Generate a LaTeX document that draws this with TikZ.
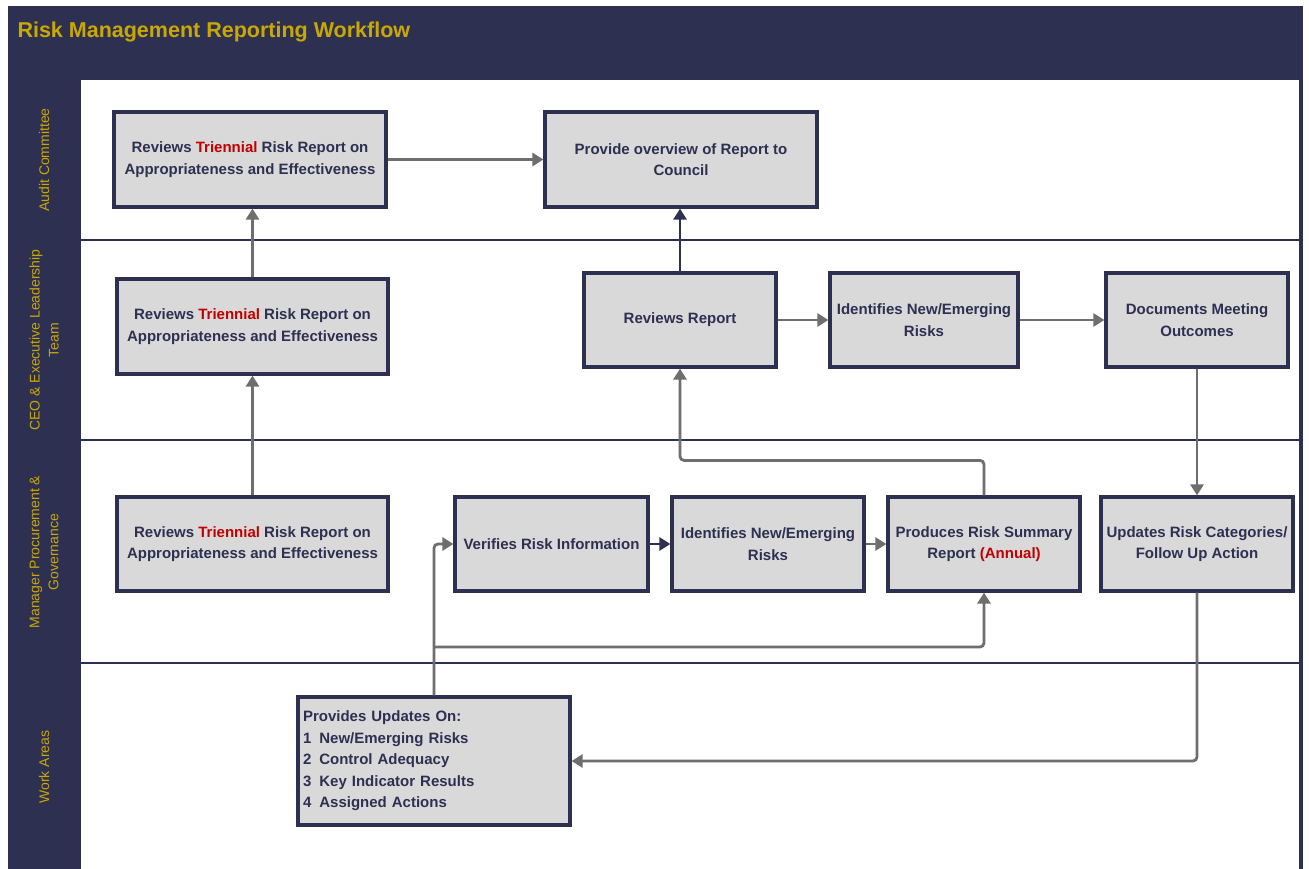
\documentclass[tikz,border=0pt]{standalone}
\usepackage{fontspec}
\setmainfont{Liberation Sans}
\usetikzlibrary{arrows.meta}
\definecolor{navy}{HTML}{2E3052}
\definecolor{titlegold}{HTML}{C9A800}
\definecolor{riskred}{HTML}{C00000}
\definecolor{boxgray}{HTML}{D9D9D9}
\definecolor{linegray}{HTML}{6E6E6E}
\newcommand{\red}[1]{\textcolor{riskred}{#1}}

\begin{document}
\begin{tikzpicture}[x=1pt,y=-1pt,
    stepbox/.style={
      % The shape:
      rectangle,minimum width=#1,minimum height=94pt,inner sep=2pt,
      % The rest
      line width=3.2pt,draw=navy,fill=boxgray,text=navy,align=center,
      font=\fontsize{15}{21.5}\selectfont\bfseries},
    stepbox/.default=192pt,
    flow/.style={line width=2.8pt,draw=linegray,rounded corners=4pt,
      -{Triangle[width=13pt,length=11pt]}},
    flowdark/.style={flow,draw=navy},
    lane/.style={line width=2.6pt,draw=navy},
    lanelabel/.style={rotate=90,text=titlegold,align=center,
      font=\fontsize{14}{19}\selectfont}]
    \useasboundingbox (0,0) rectangle (1309,869);
    % frame and swim lanes
    \fill[navy] (8,6) rectangle (1303,869);
    \fill[white] (81,80) rectangle (1299,869);
    \node[anchor=west,text=titlegold,font=\fontsize{21.5}{26}\selectfont\bfseries] (title) at (14,32) {Risk Management Reporting Workflow};
    \draw[lane] (80,240) -- (1300,240);
    \draw[lane] (80,440) -- (1300,440);
    \draw[lane] (80,663) -- (1300,663);
    \node[lanelabel] (audit) at (44,160) {Audit Committee};
    \node[lanelabel] (ceo) at (44,340) {CEO \& Executive Leadership\\Team};
    \node[lanelabel] (mgr) at (44,552) {Manager Procurement \&\\Governance};
    \node[lanelabel] (work) at (44,767) {Work Areas};

    % Audit Committee
    \node[stepbox=272pt,minimum height=95pt] (a1) at (250,159.5) {Reviews \red{Triennial} Risk Report on\\Appropriateness and Effectiveness};
    \node[stepbox=272pt,minimum height=95pt] (a2) at (681,159.5) {Provide overview of Report to\\Council};
    % CEO & Executive Leadership Team
    \node[stepbox=271pt,minimum height=95pt] (c1) at (252.5,326.5) {Reviews \red{Triennial} Risk Report on\\Appropriateness and Effectiveness};
    \node[stepbox] (c2) at (680,320) {Reviews Report};
    \node[stepbox=188pt] (c3) at (924,320) {Identifies New/Emerging\\Risks};
    \node[stepbox=182pt] (c4) at (1197,320) {Documents Meeting\\Outcomes};
    % Manager Procurement & Governance
    \node[stepbox=271pt] (m1) at (252.5,544) {Reviews \red{Triennial} Risk Report on\\Appropriateness and Effectiveness};
    \node[stepbox=193pt] (m2) at (551.5,544) {Verifies Risk Information};
    \node[stepbox] (m3) at (768,544) {Identifies New/Emerging\\Risks};
    \node[stepbox] (m4) at (984,544) {Produces Risk Summary\\Report \red{(Annual)}};
    \node[stepbox] (m5) at (1197,544) {Updates Risk Categories/\\Follow Up Action};
    % Work Areas
    \node[stepbox=272pt,minimum height=128pt,align=left,text width=262pt,inner xsep=4pt] (w1) at (434,761)
      {Provides Updates On:\\1\hspace{8pt}New/Emerging Risks\\2\hspace{8pt}Control Adequacy\\3\hspace{8pt}Key Indicator Results\\4\hspace{8pt}Assigned Actions};
    \coordinate (split) at (434,647);

    % connectors
    \draw[flow] (a1) -- (a2);
    \draw[flow] (c1.north) -- (c1.north |- a1.south);
    \draw[flow] (m1) -- (c1);
    \draw[flowdark] (c2.north) -- (c2.north |- a2.south);
    \draw[flow] (c2) -- (c3);
    \draw[flow] (c3) -- (c4);
    \draw[flow] (c4) -- (m5);
    \draw[flowdark] (m2) -- (m3);
    \draw[flow] (m3) -- (m4);
    \draw[flow] (m4.north) -- ++(0,-35) -| (c2.south);
    \draw[flow] (m5.south) |- (w1.east);
    \draw[flow] (w1.north) |- (m2.west);
    \draw[flow] (split) -| (m4.south);
  \end{tikzpicture}
\end{document}
